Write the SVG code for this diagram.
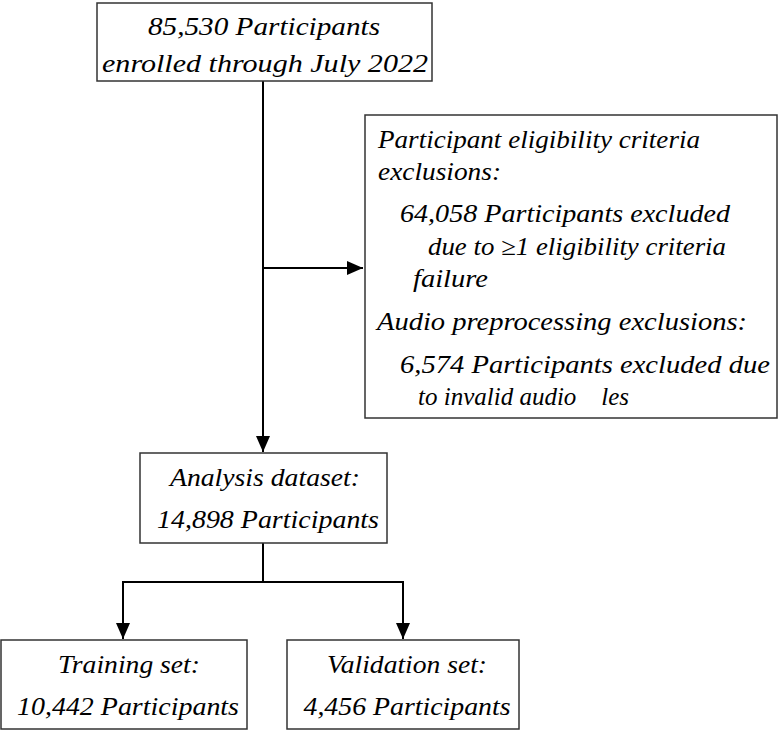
<svg xmlns="http://www.w3.org/2000/svg" width="780" height="730" viewBox="0 0 780 730">
<style>
rect{fill:#fff;stroke:#333;stroke-width:1.5}
text{font-family:"Liberation Serif","Times New Roman",serif;font-style:italic;font-size:25px;fill:#000}
.c{text-anchor:middle}
.l{stroke:#000;stroke-width:2;fill:none}
</style>
<defs><marker id="a" markerWidth="16" markerHeight="14" refX="16" refY="7" orient="auto" markerUnits="userSpaceOnUse"><path d="M0,0L16,7L0,14z" fill="#000"/></marker></defs>
<rect width="780" height="730" style="stroke:none"/>
<g id="connectors">
<path class="l" d="M263,81V452" marker-end="url(#a)"/>
<path class="l" d="M263,268H363" marker-end="url(#a)"/>
<path class="l" d="M263,543V582H123V639" marker-end="url(#a)"/>
<path class="l" d="M263,582H403V639" marker-end="url(#a)"/>
</g>
<g id="enrolled"><rect x="97" y="3" width="335" height="78"/>
<text class="c" x="264" y="35" textLength="232" lengthAdjust="spacingAndGlyphs">85,530 Participants</text>
<text class="c" x="265" y="72" textLength="326" lengthAdjust="spacingAndGlyphs">enrolled through July 2022</text></g>
<g id="exclusions"><rect x="365" y="115" width="412" height="303"/>
<text x="378" y="148" textLength="322" lengthAdjust="spacingAndGlyphs">Participant eligibility criteria</text>
<text x="378" y="180" textLength="123" lengthAdjust="spacingAndGlyphs">exclusions:</text>
<text x="400" y="222" textLength="330" lengthAdjust="spacingAndGlyphs">64,058 Participants excluded</text>
<text x="428" y="255" textLength="298" lengthAdjust="spacingAndGlyphs">due to ≥1 eligibility criteria</text>
<text x="413" y="287" textLength="75" lengthAdjust="spacingAndGlyphs">failure</text>
<text x="377" y="330" textLength="370" lengthAdjust="spacingAndGlyphs">Audio preprocessing exclusions:</text>
<text x="400" y="373" textLength="370" lengthAdjust="spacingAndGlyphs">6,574 Participants excluded due</text>
<text x="418" y="405" xml:space="preserve">to invalid audio    les</text></g>
<g id="analysis"><rect x="140" y="453" width="247" height="90"/>
<text class="c" x="265" y="486" textLength="190" lengthAdjust="spacingAndGlyphs">Analysis dataset:</text>
<text class="c" x="268" y="528" textLength="222" lengthAdjust="spacingAndGlyphs">14,898 Participants</text></g>
<g id="training"><rect x="1" y="640" width="246" height="89"/>
<text class="c" x="129" y="673" textLength="142" lengthAdjust="spacingAndGlyphs">Training set:</text>
<text class="c" x="128" y="715" textLength="222" lengthAdjust="spacingAndGlyphs">10,442 Participants</text></g>
<g id="validation"><rect x="287" y="640" width="232" height="89"/>
<text class="c" x="407" y="673" textLength="160" lengthAdjust="spacingAndGlyphs">Validation set:</text>
<text class="c" x="407" y="715" textLength="207" lengthAdjust="spacingAndGlyphs">4,456 Participants</text></g>
</svg>
